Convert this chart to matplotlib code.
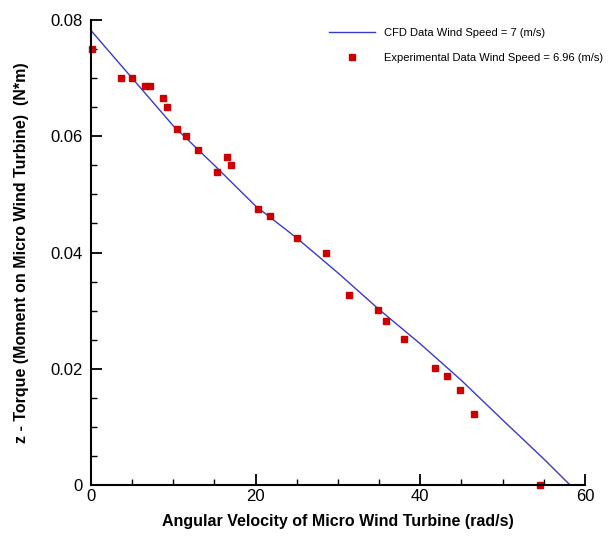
import numpy as np
import matplotlib
matplotlib.use("Agg")
import matplotlib.pyplot as plt
from matplotlib.ticker import MultipleLocator

plt.rcParams['font.family'] = ['Liberation Sans', 'DejaVu Sans']

# CFD curve
cfd_omega = [0, 5, 10, 15, 20, 25, 30, 35, 40, 45, 50, 55, 58.2]
cfd_torque = [0.0782, 0.0700, 0.0618, 0.0550, 0.0480, 0.0425, 0.0365,
              0.0302, 0.0243, 0.0180, 0.0112, 0.0045, 0.0]

# experimental points
exp_omega = [0.1, 3.6, 5.0, 6.6, 7.2, 8.8, 9.2, 10.4, 11.6, 13.0, 15.3, 16.5,
             17.0, 20.3, 21.7, 25.0, 28.5, 31.4, 34.9, 35.8, 38.0, 41.8, 43.2,
             44.8, 46.5, 54.5]
exp_torque = [0.0750, 0.0701, 0.0701, 0.0686, 0.0686, 0.0666, 0.0650, 0.0612,
              0.0600, 0.0576, 0.0538, 0.0564, 0.0550, 0.0475, 0.0463, 0.0425,
              0.0400, 0.0327, 0.0301, 0.0282, 0.0251, 0.0202, 0.0188, 0.0163,
              0.0122, 0.0]

x_ticks = [0, 20, 40, 60]
y_ticks = [0, 0.02, 0.04, 0.06, 0.08]
y_ticklabels = ['0', '0.02', '0.04', '0.06', '0.08']

fig = plt.figure(figsize=(6.09, 5.36), dpi=100)
ax = fig.add_axes([0.1494, 0.0951, 0.811, 0.8675])

ax.plot(cfd_omega, cfd_torque, color='#3a3acc', lw=1.0,
        label='CFD Data Wind Speed = 7 (m/s)')
ax.plot(exp_omega, exp_torque, 's', color='#cc0000', ms=4.0, mec='#cc0000',
        label='Experimental Data Wind Speed = 6.96 (m/s)', clip_on=False)

ax.set_xlim(0, 60)
ax.set_ylim(0, 0.08)
ax.set_xticks(x_ticks)
ax.set_xticklabels([str(t) for t in x_ticks])
ax.set_yticks(y_ticks)
ax.set_yticklabels(y_ticklabels)
ax.xaxis.set_minor_locator(MultipleLocator(5))
ax.yaxis.set_minor_locator(MultipleLocator(0.005))

for s in ['top', 'right']:
    ax.spines[s].set_visible(False)
for s in ['left', 'bottom']:
    ax.spines[s].set_linewidth(1.5)
ax.tick_params(which='major', direction='in', length=8, width=1.3, labelsize=12)
ax.tick_params(axis='x', which='major', pad=3)
ax.tick_params(axis='y', which='major', pad=6)
ax.tick_params(which='minor', direction='in', length=4, width=1.0)

ax.set_xlabel('Angular Velocity of Micro Wind Turbine (rad/s)',
              fontsize=11.5, fontweight='bold', labelpad=7)
ax.set_ylabel('z - Torque (Moment on Micro Wind Turbine)  (N*m)',
              fontsize=11.5, fontweight='bold', labelpad=15)

ax.legend(loc='upper left', bbox_to_anchor=(0.523, 0.966),
          bbox_transform=fig.transFigure, frameon=False, fontsize=8,
          handlelength=4.2, labelspacing=1.3, numpoints=1)

fig.savefig('out.png', dpi=100)
